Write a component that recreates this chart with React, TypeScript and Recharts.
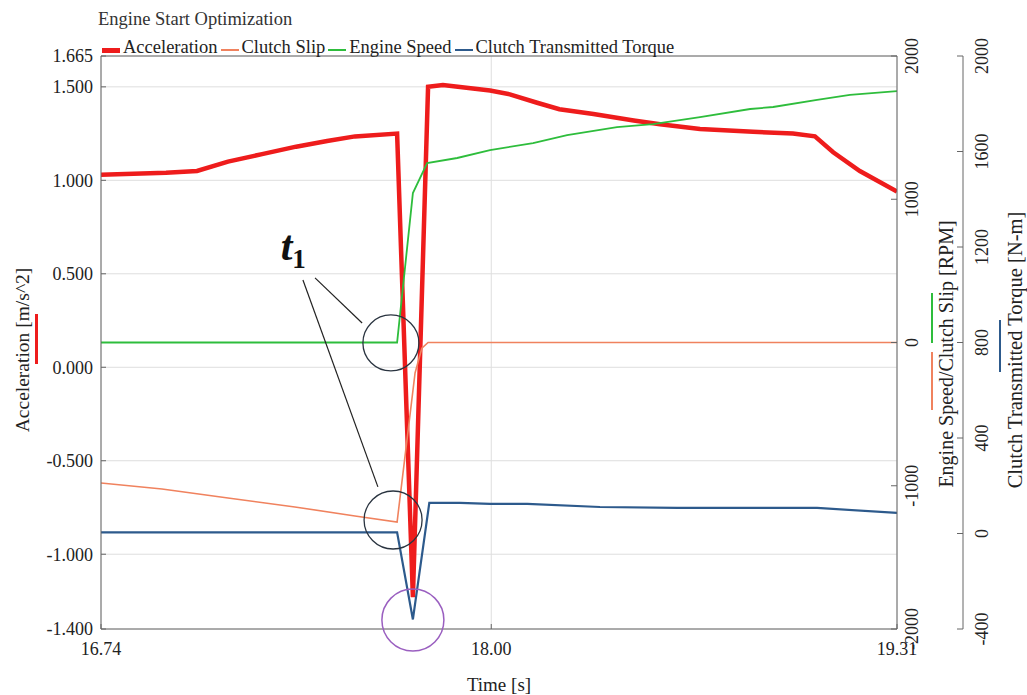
import React from "react";
import {
  CartesianGrid,
  Legend,
  Line,
  LineChart,
  ReferenceDot,
  ReferenceLine,
  XAxis,
  YAxis,
} from "recharts";

const FONT = '"Liberation Serif", "Times New Roman", serif';
const AXIS = "#666";

// Time [s] for each series
const accelTime = [
  16.74, 16.95, 17.05, 17.15, 17.26, 17.37, 17.47, 17.56, 17.696, 17.747,
  17.796, 17.844, 17.996, 18.06, 18.148, 18.22, 18.33, 18.46, 18.545, 18.674,
  18.845, 18.974, 19.045, 19.104, 19.19, 19.31,
];
const accelValue = [
  1.03, 1.04, 1.05, 1.1, 1.14, 1.18, 1.21, 1.235, 1.25, -1.23, 1.5, 1.51, 1.48,
  1.46, 1.415, 1.38, 1.355, 1.32, 1.3, 1.275, 1.26, 1.25, 1.235, 1.15, 1.05,
  0.94,
];

const slipTime = [
  16.74, 16.937, 17.15, 17.366, 17.56, 17.696, 17.729, 17.754, 17.776, 17.796,
  19.31,
];
const slipValue = [-981, -1023, -1085, -1148, -1211, -1253, -660, -213, -40, 0, 0];

const speedTime = [
  16.74, 17.696, 17.747, 17.793, 17.89, 17.996, 18.135, 18.245, 18.406, 18.522,
  18.674, 18.836, 18.91, 19.052, 19.158, 19.31,
];
const speedValue = [
  0, 0, 1043, 1253, 1288, 1343, 1392, 1448, 1504, 1525, 1574, 1630, 1644, 1693,
  1728, 1755,
];

const torqueTime = [
  16.74, 17.696, 17.747, 17.8, 17.899, 17.996, 18.116, 18.351, 18.6, 19.052,
  19.31,
];
const torqueValue = [5, 5, -360, 128, 128, 124, 124, 111, 107, 107, 86];

const seriesNames = [
  "Acceleration",
  "Clutch Slip",
  "Engine Speed",
  "Clutch Transmitted Torque",
];

const timeTicks = [16.74, 18.0, 19.31];
const accelTicks = [-1.4, -1.0, -0.5, 0, 0.5, 1.0, 1.5, 1.665];
const rpmTicks = [-2000, -1000, 0, 1000, 2000];
const torqueTicks = [-400, 0, 400, 800, 1200, 1600, 2000];

const toPoints = (ts: number[], vs: number[]) =>
  ts.map((t, i) => ({ t, v: vs[i] }));

const COLORS = {
  accel: "#ee1c1c",
  slip: "#f0825e",
  speed: "#2ebd3c",
  torque: "#2d5a8c",
};

function ChartLegend(props: any) {
  const payload = [...(props.payload || [])].sort(
    (a: any, b: any) => seriesNames.indexOf(a.value) - seriesNames.indexOf(b.value)
  );
  return (
    <div style={{ fontFamily: FONT, color: "#222" }}>
      <div style={{ fontSize: 18.5, lineHeight: "22px", color: "#333" }}>
        Engine Start Optimization
      </div>
      <div
        style={{
          display: "flex",
          alignItems: "center",
          marginTop: 7,
          paddingLeft: 4,
          fontSize: 18.5,
          lineHeight: "20px",
          whiteSpace: "nowrap",
        }}
      >
        {payload.map((p: any) => (
          <span key={p.value} style={{ display: "flex", alignItems: "center" }}>
            <span
              style={{
                display: "inline-block",
                width: 18,
                height: p.value === "Acceleration" ? 5 : 2,
                background: p.color,
                marginRight: 3,
                marginTop: 6,
              }}
            />
            <span style={{ marginRight: 3 }}>{p.value}</span>
          </span>
        ))}
      </div>
    </div>
  );
}

function LeftTick(props: any) {
  const { x, y, payload } = props;
  const axisX = x + 8;
  return (
    <g>
      <line x1={axisX} x2={axisX + 5} y1={y} y2={y} stroke={AXIS} />
      <text
        x={x}
        y={y}
        dy="0.35em"
        textAnchor="end"
        fontSize={18}
        fontFamily={FONT}
        fill="#222"
      >
        {Number(payload.value).toFixed(3)}
      </text>
    </g>
  );
}

function makeRightTick(margin: number) {
  return function RightTick(props: any) {
    const { x, y, payload } = props;
    const axisX = x - margin;
    return (
      <g>
        <line x1={axisX - 6} x2={axisX} y1={y} y2={y} stroke={AXIS} />
        <text
          x={x}
          y={y}
          dy="0.35em"
          textAnchor="middle"
          transform={`rotate(-90 ${x} ${y})`}
          fontSize={18}
          fontFamily={FONT}
          fill="#222"
        >
          {payload.value}
        </text>
      </g>
    );
  };
}

const RpmTick = makeRightTick(15);
const TorqueTick = makeRightTick(19);

function TimeTick(props: any) {
  const { x, y, payload } = props;
  const axisY = y - 20;
  return (
    <g>
      <line x1={x} x2={x} y1={axisY} y2={axisY - 5} stroke={AXIS} />
      <text
        x={x}
        y={y}
        dy="0.35em"
        textAnchor="middle"
        fontSize={18}
        fontFamily={FONT}
        fill="#222"
      >
        {Number(payload.value).toFixed(2)}
      </text>
    </g>
  );
}

function VerticalTitle({
  x,
  y,
  text,
  size,
}: {
  x: number;
  y: number;
  text: string;
  size: number;
}) {
  return (
    <text
      x={x}
      y={y}
      dy="0.35em"
      textAnchor="middle"
      transform={`rotate(-90 ${x} ${y})`}
      fontSize={size}
      fontFamily={FONT}
      fill="#222"
    >
      {text}
    </text>
  );
}

function AccelLabel(props: any) {
  const vb = props.viewBox;
  return (
    <g>
      <VerticalTitle x={vb.x + 22} y={350} size={19.5} text="Acceleration [m/s^2]" />
      <rect x={vb.x + 35} y={314} width={3} height={50} fill={COLORS.accel} />
    </g>
  );
}

function RpmLabel(props: any) {
  const vb = props.viewBox;
  return (
    <g>
      <VerticalTitle
        x={vb.x + 49}
        y={354}
        size={20}
        text="Engine Speed/Clutch Slip [RPM]"
      />
      <rect x={vb.x + 34} y={293} width={2} height={50} fill={COLORS.speed} />
      <rect x={vb.x + 34} y={352} width={2} height={58} fill={COLORS.slip} />
    </g>
  );
}

function TorqueLabel(props: any) {
  const vb = props.viewBox;
  return (
    <g>
      <VerticalTitle
        x={vb.x + 52}
        y={350}
        size={20.5}
        text="Clutch Transmitted Torque [N-m]"
      />
      <rect x={vb.x + 36} y={320} width={2} height={52} fill={COLORS.torque} />
    </g>
  );
}

function TimeLabel(props: any) {
  const vb = props.viewBox;
  return (
    <text
      x={vb.x + vb.width / 2}
      y={684}
      dy="0.35em"
      textAnchor="middle"
      fontSize={19}
      fontFamily={FONT}
      fill="#222"
    >
      Time [s]
    </text>
  );
}

function T1Mark(props: any) {
  return (
    <text x={props.cx} y={props.cy} fontFamily={FONT} fill="#111">
      <tspan fontSize={42} fontWeight="bold" fontStyle="italic">
        t
      </tspan>
      <tspan fontSize={27} fontWeight="bold" dy={8}>
        1
      </tspan>
    </text>
  );
}

export default function App() {
  return (
    <div
      style={{
        position: "absolute",
        top: 0,
        left: 0,
        width: 1027,
        height: 695,
        overflow: "hidden",
        background: "#fff",
      }}
    >
      <LineChart
        width={1027}
        height={695}
        margin={{ top: 56, right: 0, bottom: 0, left: 0 }}
      >
        <CartesianGrid yAxisId="acc" stroke="#dedede" />
        <XAxis
          dataKey="t"
          type="number"
          domain={[16.74, 19.31]}
          ticks={timeTicks}
          interval={0}
          allowDataOverflow
          height={66}
          stroke={AXIS}
          tickSize={0}
          tickMargin={20}
          tick={<TimeTick />}
          label={<TimeLabel />}
        />
        <YAxis
          yAxisId="acc"
          type="number"
          domain={[-1.4, 1.665]}
          ticks={accelTicks}
          interval={0}
          allowDataOverflow
          width={101}
          stroke={AXIS}
          tickSize={0}
          tickMargin={8}
          tick={<LeftTick />}
          label={<AccelLabel />}
        />
        <YAxis
          yAxisId="rpm"
          orientation="right"
          type="number"
          domain={[-2000, 2000]}
          ticks={rpmTicks}
          interval={0}
          allowDataOverflow
          width={66}
          stroke={AXIS}
          tickSize={0}
          tickMargin={15}
          tick={<RpmTick />}
          label={<RpmLabel />}
        />
        <YAxis
          yAxisId="torque"
          orientation="right"
          type="number"
          domain={[-400, 2000]}
          ticks={torqueTicks}
          interval={0}
          allowDataOverflow
          width={64}
          stroke={AXIS}
          tickSize={0}
          tickMargin={19}
          tick={<TorqueTick />}
          label={<TorqueLabel />}
        />
        <ReferenceLine yAxisId="acc" y={1.665} stroke={AXIS} />
        <Legend
          layout="horizontal"
          verticalAlign="middle"
          align="center"
          wrapperStyle={{ top: 8, left: 98, width: "auto", height: "auto" }}
          content={<ChartLegend />}
        />
        <Line
          name="Acceleration"
          data={toPoints(accelTime, accelValue)}
          dataKey="v"
          yAxisId="acc"
          stroke={COLORS.accel}
          strokeWidth={4.5}
          dot={false}
          type="linear"
          isAnimationActive={false}
        />
        <Line
          name="Clutch Slip"
          data={toPoints(slipTime, slipValue)}
          dataKey="v"
          yAxisId="rpm"
          stroke={COLORS.slip}
          strokeWidth={1.6}
          dot={false}
          type="linear"
          isAnimationActive={false}
        />
        <Line
          name="Engine Speed"
          data={toPoints(speedTime, speedValue)}
          dataKey="v"
          yAxisId="rpm"
          stroke={COLORS.speed}
          strokeWidth={1.8}
          dot={false}
          type="linear"
          isAnimationActive={false}
        />
        <Line
          name="Clutch Transmitted Torque"
          data={toPoints(torqueTime, torqueValue)}
          dataKey="v"
          yAxisId="torque"
          stroke={COLORS.torque}
          strokeWidth={2.2}
          dot={false}
          type="linear"
          isAnimationActive={false}
        />
        {/* t1 annotation */}
        <ReferenceLine
          yAxisId="acc"
          segment={[
            { x: 17.431, y: 0.478 },
            { x: 17.583, y: 0.237 },
          ]}
          stroke="#222"
          strokeWidth={1.2}
          ifOverflow="visible"
        />
        <ReferenceLine
          yAxisId="acc"
          segment={[
            { x: 17.392, y: 0.467 },
            { x: 17.634, y: -0.64 },
          ]}
          stroke="#222"
          strokeWidth={1.2}
          ifOverflow="visible"
        />
        <ReferenceDot
          yAxisId="acc"
          x={17.676}
          y={0.13}
          r={28}
          fill="none"
          stroke="#2a3440"
          strokeWidth={1.3}
          ifOverflow="visible"
        />
        <ReferenceDot
          yAxisId="acc"
          x={17.683}
          y={-0.817}
          r={29}
          fill="none"
          stroke="#2a3440"
          strokeWidth={1.3}
          ifOverflow="visible"
        />
        <ReferenceDot
          yAxisId="acc"
          x={17.747}
          y={-1.352}
          r={31}
          fill="none"
          stroke="#9a5fc0"
          strokeWidth={1.5}
          ifOverflow="visible"
        />
        <ReferenceDot
          yAxisId="acc"
          x={17.32}
          y={0.574}
          r={0}
          ifOverflow="visible"
          shape={<T1Mark />}
        />
      </LineChart>
    </div>
  );
}
